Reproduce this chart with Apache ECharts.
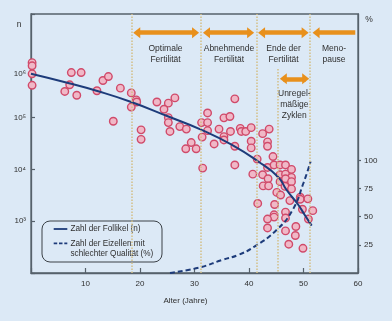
<!DOCTYPE html>
<html>
<head>
<meta charset="utf-8">
<script src="https://cdn.jsdelivr.net/npm/echarts@6.0.0/dist/echarts.min.js"></script>
<style>
  html, body { margin: 0; padding: 0; background: #dce9f6; }
  #chart { width: 392px; height: 321px; }
</style>
</head>
<body>
<div id="chart"></div>
<script>
// Einzelwerte: Alter (Jahre) und Zahl der Follikel
const pointAge = [0.2, 0.2, 0.2, 0.2, 7.4, 9.2, 7.1, 6.2, 8.4, 13.2, 14.2, 12.1, 16.4, 18.4, 18.4, 15.1,
  19.3, 19.4, 20.2, 20.2, 23.1, 25.2, 26.4, 24.4, 25.2, 25.2, 25.5, 27.3, 28.5, 29.4, 28.4, 30.3,
  31.3, 32.4, 32.4, 32.4, 31.4, 33.6, 34.5, 35.4, 36.5, 35.4, 35.4, 36.6, 37.4, 37.4, 31.5, 37.4,
  38.4, 38.6, 39.4, 40.4, 40.4, 40.4, 41.5, 40.7, 42.5, 43.7, 43.4, 43.4, 44.4, 43.4, 42.5, 44.6,
  45.7, 46.7, 47.8, 45.7, 46.7, 47.8, 43.5, 42.6, 43.6, 45.7, 46.7, 47.8, 46.6, 47.8, 41.6, 45.1,
  45.8, 47.5, 49.4, 49.4, 50.8, 44.7, 49.8, 51.7, 46.7, 44.6, 44.6, 43.4, 46.7, 50.9, 43.4, 48.6,
  46.7, 48.5, 47.3, 49.9];
const pointCount = [1.15e6, 1.0e6, 7.0e5, 4.2e5, 7.4e5, 7.4e5, 4.3e5, 3.2e5, 2.7e5, 5.2e5, 6.2e5, 3.3e5, 3.7e5, 3.0e5, 1.6e5, 8.5e4,
  2.2e5, 2.0e5, 5.8e4, 3.8e4, 2.0e5, 1.9e5, 2.4e5, 1.45e5, 1.0e5, 8.0e4, 5.4e4, 6.7e4, 6.0e4, 3.3e4, 2.5e4, 2.5e4,
  8.0e4, 8.0e4, 1.23e5, 5.6e4, 4.2e4, 3.1e4, 6.0e4, 9.9e4, 1.05e5, 4.3e4, 3.7e4, 5.4e4, 2.3e5, 2.8e4, 1.06e4, 1.22e4,
  6.2e4, 5.4e4, 5.4e4, 6.4e4, 3.5e4, 2.6e4, 1.58e4, 8.1e3, 4.9e4, 6.0e4, 3.4e4, 2.8e4, 1.77e4, 1.09e4, 7.9e3, 1.22e4,
  1.22e4, 1.22e4, 1.0e4, 7.9e3, 8.1e3, 7.0e3, 6.6e3, 4.8e3, 4.8e3, 5.8e3, 6.6e3, 5.8e3, 4.7e3, 4.2e3, 2.2e3, 3.6e3,
  3.2e3, 2.5e3, 2.9e3, 2.65e3, 2.7e3, 2.1e3, 1.7e3, 1.6e3, 1.5e3, 1.33e3, 1.2e3, 1.1e3, 1.15e3, 1.1e3, 740, 790,
  650, 530, 360, 300];

// Kurve: Zahl der Follikel (n)
const follicleAge = [0, 7, 12, 18.4, 25.2, 31.3, 36.8, 41.7, 45.3, 46.9, 49, 50.2, 51.5];
const follicleCount = [7.0e5, 4.6e5, 3.3e5, 2.0e5, 1.05e5, 5.8e4, 3.0e4, 1.42e4, 7.2e3, 4.0e3, 2.1e3, 1.33e3, 820];

// Kurve: Eizellen mit schlechter Qualität (%)
const badAge = [25.5, 31, 35, 38, 41, 45, 48, 50, 51.3];
const badPercent = [0, 5, 11.5, 16, 23.5, 38, 56, 80, 99];

// Phasengrenzen und Pfeile (Alter)
const phaseBounds = [18.4, 31.2, 41.4, 51.2];
const cycleBound = 45.2;
const phaseArrows = [[19.4, 30.2], [32.2, 40.3], [42.3, 50.3]];
const menopauseArrow = [52.3, 59.5];
const cycleArrow = [46.3, 50.4];

const logLabels = { 1000: '10³', 10000: '10⁴', 100000: '10⁵', 1000000: '10⁶' };
const percentTicks = [25, 50, 75, 100];

const FONT = 'Liberation Sans';
const TEXT = '#2f2f2f';
const FRAME = '#56616b';
const NAVY = '#1d3b7a';
const ORANGE = '#e8901c';

const chart = echarts.init(document.getElementById('chart'));

const points = pointAge.map((a, i) => [a, pointCount[i]]);
const follicles = follicleAge.map((a, i) => [a, follicleCount[i]]);
const bad = badAge.map((a, i) => [a, badPercent[i]]);

const arrowY = 4.36e6;
const arrowData = phaseArrows.map(p => [{ coord: [p[0], arrowY] }, { coord: [p[1], arrowY] }]);
arrowData.push([{ coord: [menopauseArrow[0], arrowY] }, { coord: [menopauseArrow[1], arrowY], symbol: 'none' }]);
arrowData.push([{ coord: [cycleArrow[0], 5.6e5] }, { coord: [cycleArrow[1], 5.6e5] }]);

const guideData = phaseBounds.map(b => ({ xAxis: b }));
guideData.push([{ coord: [cycleBound, 8.7e5] }, { coord: [cycleBound, 100] }]);

function txt(x, y, text, size, lh, align) {
  return {
    type: 'text', x: x, y: y, silent: true,
    style: {
      text: text, fill: TEXT, font: size + 'px ' + FONT, lineHeight: lh,
      align: align || 'center', verticalAlign: 'middle',
      textAlign: align || 'center', textVerticalAlign: 'middle'
    }
  };
}

const option = {
  backgroundColor: '#dce9f6',
  animation: false,
  grid: { left: 31, right: 34, top: 14, bottom: 48, show: true, borderColor: FRAME, borderWidth: 1.3 },
  xAxis: {
    type: 'value', min: 0, max: 60, interval: 10,
    name: 'Alter (Jahre)', nameLocation: 'middle', nameGap: 24,
    nameTextStyle: { color: TEXT, fontSize: 8, fontFamily: FONT, padding: [0, 18, 0, 0] },
    axisLine: { lineStyle: { color: FRAME, width: 1.3 } },
    axisTick: { inside: true, length: 5, lineStyle: { color: FRAME, width: 1.2 } },
    axisLabel: { color: TEXT, fontSize: 8, fontFamily: FONT, margin: 7, formatter: v => v === 0 ? '' : v },
    splitLine: { show: false }
  },
  yAxis: [{
    type: 'log', logBase: 10, min: 100, max: 1e7,
    axisLine: { show: true, lineStyle: { color: FRAME, width: 1.3 } },
    axisTick: { inside: true, length: 4, lineStyle: { color: FRAME, width: 1.2 } },
    axisLabel: {
      color: TEXT, fontSize: 8, fontFamily: 'Liberation Sans, DejaVu Sans', margin: 5,
      formatter: v => {
        const t = logLabels[Math.round(v)];
        if (!t) return '';
        return v > 5e5 ? '{lo|' + t + '}' : t;
      },
      rich: { lo: { padding: [16, 0, 0, 0], fontSize: 8, color: TEXT, fontFamily: 'Liberation Sans, DejaVu Sans' } }
    },
    splitLine: { show: false }
  }, {
    type: 'value', min: 0, max: 230, position: 'right',
    axisLine: { show: true, lineStyle: { color: FRAME, width: 1.3 } },
    axisTick: { show: true, length: 3, customValues: percentTicks, lineStyle: { color: FRAME, width: 1.2 } },
    axisLabel: { color: TEXT, fontSize: 8, fontFamily: FONT, margin: 6, customValues: percentTicks },
    splitLine: { show: false }
  }],
  series: [{
    name: 'guides', type: 'line', data: [], z: 1, silent: true,
    markLine: {
      silent: true, symbol: 'none', label: { show: false },
      lineStyle: { type: 'dotted', color: '#d3bf86', width: 1.5 },
      data: guideData
    }
  }, {
    name: 'Follikel', type: 'scatter', data: points, z: 2,
    symbolSize: 7.5,
    itemStyle: { color: '#f0b8c7', borderColor: '#d04a6a', borderWidth: 1.4, opacity: 1 }
  }, {
    name: 'Zahl der Follikel (n)', type: 'line', data: follicles, z: 3,
    smooth: true, symbol: 'none',
    lineStyle: { color: NAVY, width: 2 },
    markLine: {
      silent: true, symbol: 'triangle', symbolSize: [11, 7], label: { show: false },
      lineStyle: { type: 'solid', color: ORANGE, width: 4.5, opacity: 1 },
      itemStyle: { color: ORANGE },
      data: arrowData
    }
  }, {
    name: 'Zahl der Eizellen mit schlechter Qualität (%)', type: 'line', data: bad, yAxisIndex: 1, z: 3,
    smooth: true, symbol: 'none',
    lineStyle: { color: NAVY, width: 2, type: [5, 3] }
  }],
  graphic: [
    txt(19, 25, 'n', 8.5, 10),
    txt(369, 20, '%', 8.5, 10),
    txt(165.5, 54, 'Optimale\nFertilität', 8.5, 11.5),
    txt(229, 54, 'Abnehmende\nFertilität', 8.5, 11.5),
    txt(283.5, 54, 'Ende der\nFertilität', 8.5, 11.5),
    txt(334, 54, 'Meno-\npause', 8.5, 11.5),
    txt(294.3, 105, 'Unregel-\nmäßige\nZyklen', 8.5, 11),
    {
      type: 'rect', silent: true,
      shape: { x: 42, y: 221, width: 120, height: 41, r: 8 },
      style: { fill: 'none', stroke: '#3a4046', lineWidth: 1 }
    },
    { type: 'line', silent: true, shape: { x1: 53.7, y1: 229, x2: 67.3, y2: 229 }, style: { stroke: NAVY, lineWidth: 1.8 } },
    { type: 'line', silent: true, shape: { x1: 53.7, y1: 243.3, x2: 67.3, y2: 243.3 }, style: { stroke: NAVY, lineWidth: 1.8, lineDash: [3.5, 1.8] } },
    txt(70.5, 229, 'Zahl der Follikel (n)', 8.2, 10, 'left'),
    txt(70.5, 248.6, 'Zahl der Eizellen mit\nschlechter Qualität (%)', 8.2, 10.7, 'left')
  ]
};

chart.setOption(option);
</script>
</body>
</html>
